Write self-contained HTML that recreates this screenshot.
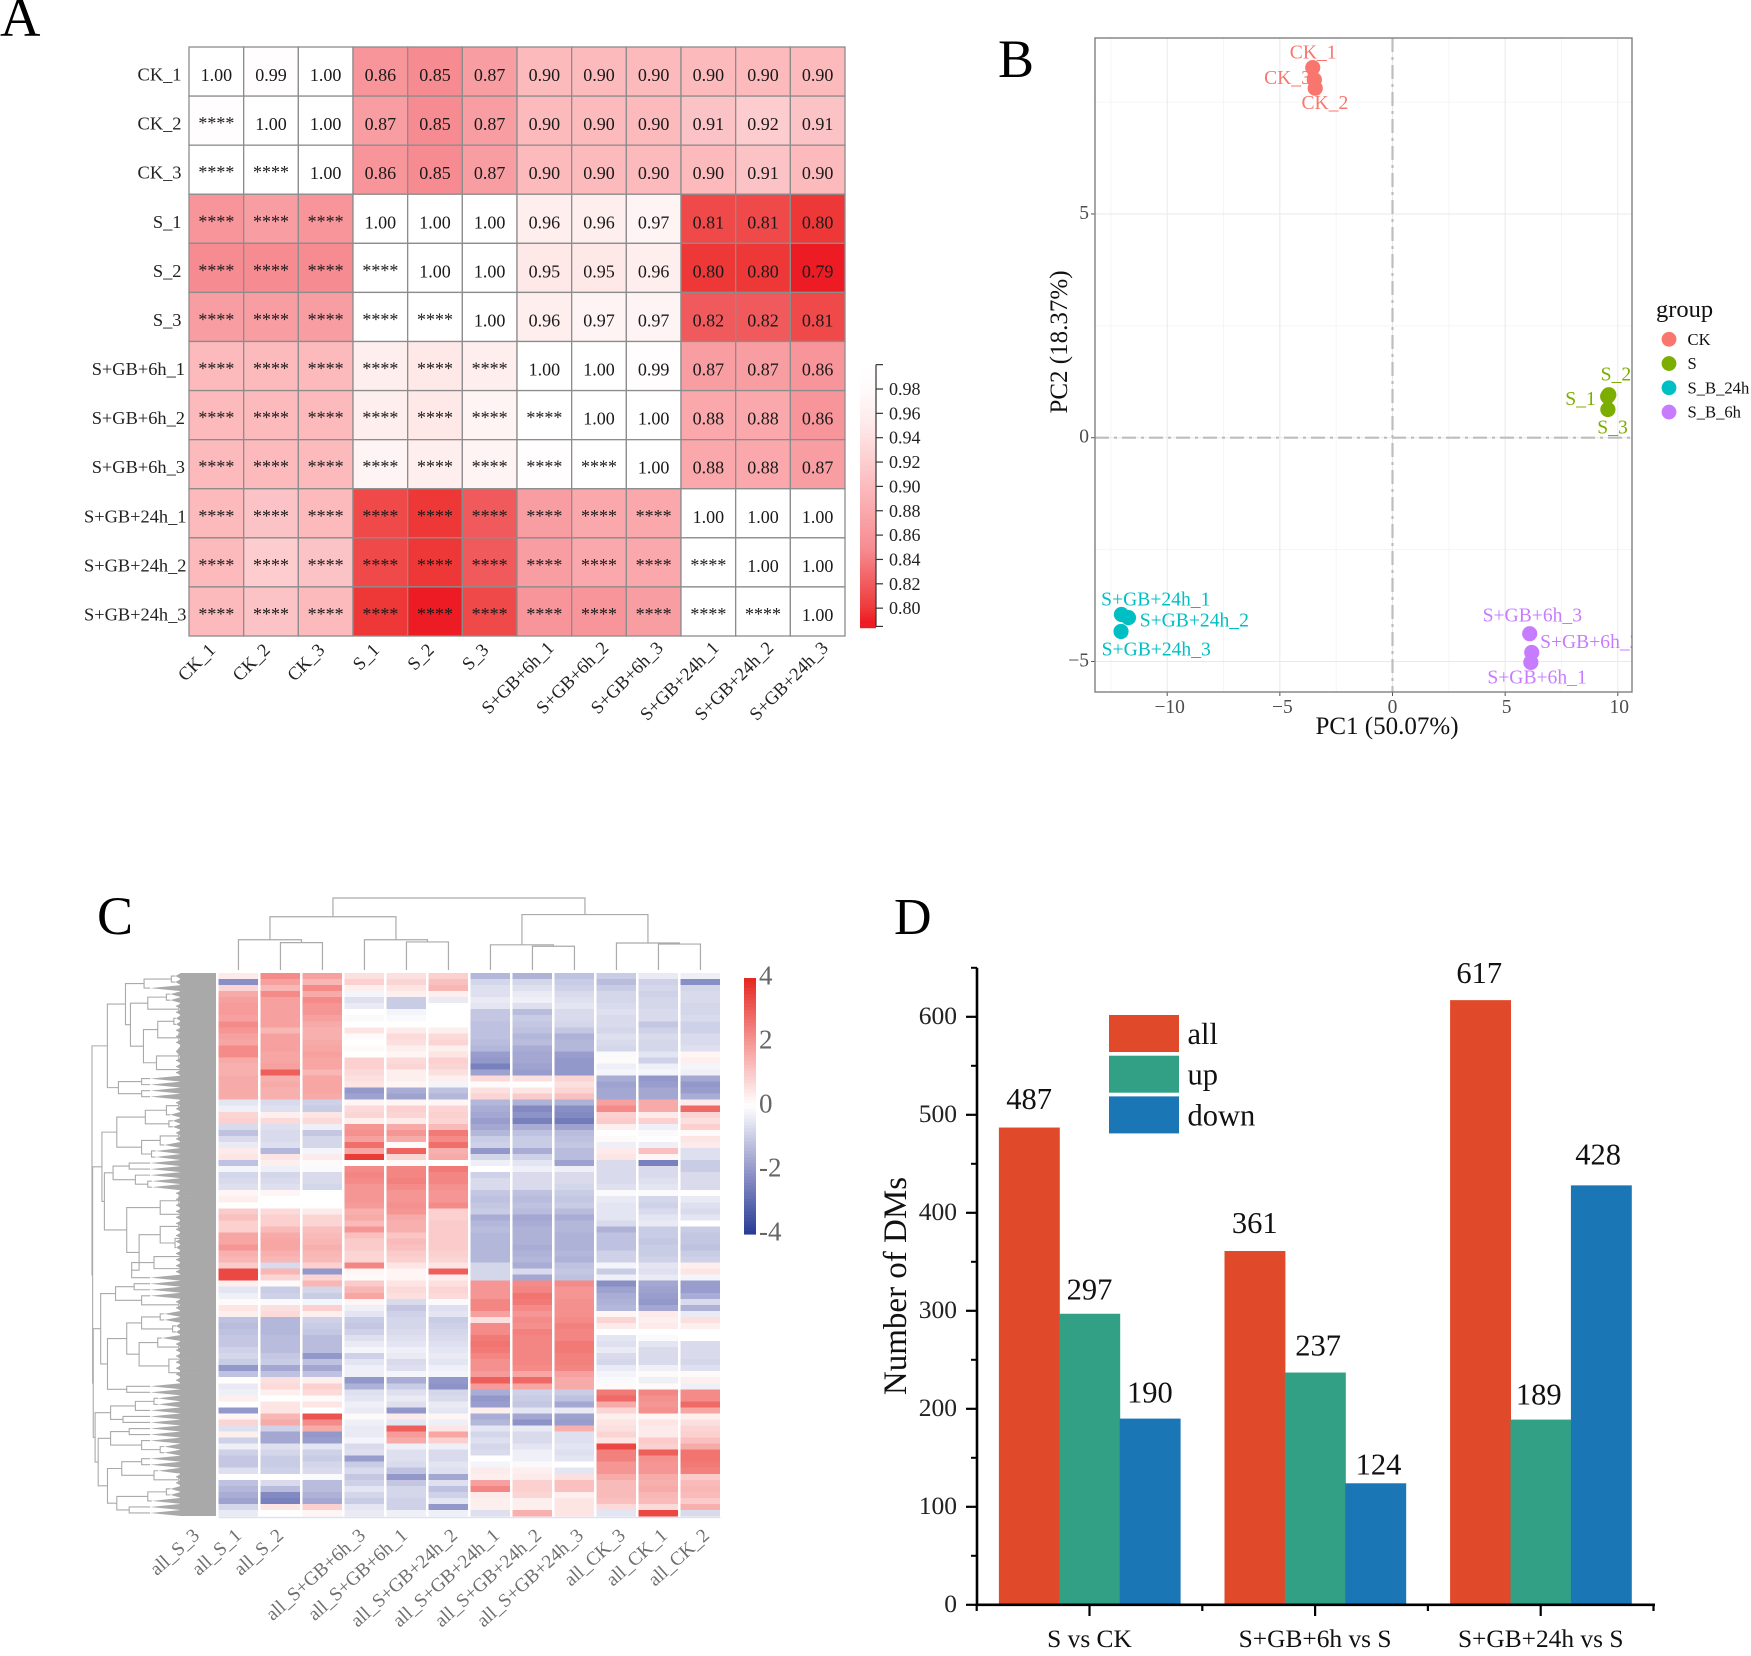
<!DOCTYPE html>
<html lang="en">
<head>
<meta charset="utf-8">
<title>Metabolomics overview: correlation, PCA, clustered heatmap, DM counts</title>
<style>
html,body{margin:0;padding:0;background:#fff;}
svg{display:block;font-family:"Liberation Serif","Noto Serif CJK SC",serif;}
</style>
</head>
<body>
<svg id="fig" xmlns="http://www.w3.org/2000/svg" width="1751" height="1656" viewBox="0 0 1751 1656">
  <rect x="0" y="0" width="1751" height="1656" fill="#ffffff"/>
  <defs><clipPath id="pcaClip"><rect x="1095" y="38" width="537" height="654"/></clipPath></defs>

  <text x="0" y="36" font-size="56" fill="#000">A</text>
  <text x="998" y="77" font-size="54" fill="#000">B</text>
  <text x="97" y="934" font-size="54" fill="#000">C</text>
  <text x="894" y="934" font-size="52" fill="#000">D</text>

  <g id="panelA"></g>

  <g id="panelB">
    <text x="1387" y="734" font-size="25" text-anchor="middle" fill="#111">PC1 (50.07%)</text>
    <text transform="translate(1067,342) rotate(-90)" font-size="25" text-anchor="middle" fill="#111">PC2 (18.37%)</text>
    <text x="1656" y="317" font-size="24.5" fill="#111">group</text>
  </g>

  <g id="panelC"></g>

  <g id="panelD">
    <text transform="translate(906,1286) rotate(-90)" font-size="33" text-anchor="middle" fill="#111">Number of DMs</text>
  </g>
</svg>

<script>
/* ---------- Panel A data ---------- */
const corrLabels = ["CK_1","CK_2","CK_3","S_1","S_2","S_3","S+GB+6h_1","S+GB+6h_2","S+GB+6h_3","S+GB+24h_1","S+GB+24h_2","S+GB+24h_3"];
const corrValues = [
  [1.00,0.99,1.00,0.86,0.85,0.87,0.90,0.90,0.90,0.90,0.90,0.90],
  [0,1.00,1.00,0.87,0.85,0.87,0.90,0.90,0.90,0.91,0.92,0.91],
  [0,0,1.00,0.86,0.85,0.87,0.90,0.90,0.90,0.90,0.91,0.90],
  [0,0,0,1.00,1.00,1.00,0.96,0.96,0.97,0.81,0.81,0.80],
  [0,0,0,0,1.00,1.00,0.95,0.95,0.96,0.80,0.80,0.79],
  [0,0,0,0,0,1.00,0.96,0.97,0.97,0.82,0.82,0.81],
  [0,0,0,0,0,0,1.00,1.00,0.99,0.87,0.87,0.86],
  [0,0,0,0,0,0,0,1.00,1.00,0.88,0.88,0.86],
  [0,0,0,0,0,0,0,0,1.00,0.88,0.88,0.87],
  [0,0,0,0,0,0,0,0,0,1.00,1.00,1.00],
  [0,0,0,0,0,0,0,0,0,0,1.00,1.00],
  [0,0,0,0,0,0,0,0,0,0,0,1.00]
];
const corrBarTicks = [0.98,0.96,0.94,0.92,0.90,0.88,0.86,0.84,0.82,0.80];

/* ---------- Panel B data ---------- */
const pcaSamples = ["CK_1","CK_3","CK_2","S_2","S_1","S_3","S+GB+24h_1","S+GB+24h_2","S+GB+24h_3","S+GB+6h_3","S+GB+6h_2","S+GB+6h_1"];
const pcaGroups  = ["CK","CK","CK","S","S","S","S_B_24h","S_B_24h","S_B_24h","S_B_6h","S_B_6h","S_B_6h"];
const pcaPC1 = [-3.54,-3.47,-3.43,9.60,9.55,9.56,-12.03,-11.72,-12.05,6.09,6.18,6.14];
const pcaPC2 = [8.27,8.00,7.81,0.96,0.92,0.63,-3.95,-4.02,-4.33,-4.38,-4.80,-5.02];
const pcaLabelPC1 = [-4.56,-5.70,-4.04,9.24,7.67,9.09,-12.93,-11.22,-12.91,4.00,6.55,4.21];
const pcaLabelPC2 = [8.61,8.04,7.48,1.41,0.87,0.23,-3.62,-4.09,-4.73,-3.97,-4.57,-5.36];
const pcaLegend = ["CK","S","S_B_24h","S_B_6h"];
const pcaXTicks = [-10,-5,0,5,10];
const pcaYTicks = [-5,0,5];
const pcaXMinor = [-12.5,-7.5,-2.5,2.5,7.5];
const pcaYMinor = [-2.5,2.5,7.5];

/* ---------- Panel C data ---------- */
const heatColumns = ["all_S_3","all_S_1","all_S_2","all_S+GB+6h_3","all_S+GB+6h_1","all_S+GB+24h_2","all_S+GB+24h_1","all_S+GB+24h_2","all_S+GB+24h_3","all_CK_3","all_CK_1","all_CK_2"];
const heatBarTicks = [4,2,0,-2,-4];
const heatRows = [
[.4,2.2,1.8,.6,.6,.9,-1.4,-1.5,-1.2,-1,-.4,-.3],
[-2.2,1.8,1.4,.9,.8,1.2,-.8,-.8,-1,-1.3,-.9,-2.2],
[.8,1.4,2.2,.3,.5,1.4,-.6,-.6,-.9,-1,-.8,-.8],
[1.6,2.2,1.6,-.2,.3,.3,-.6,-.4,-.7,-.8,-.9,-.7],
[1.8,1.8,2.2,-.6,-1,-.4,-.4,-.3,-.6,-.8,-.8,-.7],
[1.9,1.8,2,-.4,-1,0,-.5,-.6,-.5,-.7,-.8,-.8],
[1.9,1.8,2,0,-.2,0,-1.1,-1.3,-.7,-.6,-.7,-.8],
[1.8,1.8,1.8,-.1,-.1,0,-1.1,-1,-.7,-.7,-.7,-.7],
[2.2,1.8,1.6,0,0,0,-1.2,-1.1,-.8,-.7,-1.1,-.9],
[2,1.4,1.5,.5,.4,.3,-1.2,-1.2,-1.1,-.8,-.9,-.9],
[1.8,1.8,1.5,.1,.7,.7,-1.2,-1.4,-1.5,-.6,-.7,-.7],
[1.7,1.8,1.6,0,.6,.8,-1.3,-1.3,-1.4,-.7,-.8,-.7],
[2.2,1.8,1.7,.1,.3,.3,-1.4,-1.6,-1.4,-.8,-.8,-.6],
[2.2,1.7,1.8,0,.2,.5,-1.9,-1.7,-1.9,-.1,-.5,.2],
[1.6,1.7,1.7,.9,.7,.9,-2,-1.7,-2,.1,-.9,.3],
[1.5,1.8,1.7,.9,.8,.8,-2.5,-1.8,-2,-.3,-.3,-.2],
[1.5,3,1.4,.7,.3,.6,-1.8,-1.9,-2,-.2,-.2,-.3],
[1.6,1.5,1.7,.6,.3,.3,.7,.6,.8,-1.6,-2,-1.7],
[1.6,1.6,1.7,.5,.2,-.2,.1,0,.6,-1.8,-1.9,-2],
[1.6,1.5,1.7,-2,-1.6,-1.2,.6,.5,.8,-1.7,-1.7,-1.9],
[1.6,1.5,1.6,-1.8,-1.8,-1.4,.8,1,1.2,-1.7,-1.7,-1.6],
[-.5,-.7,-.9,.2,.2,.2,-1.4,-1.5,-1.5,1.8,1.6,.4],
[-.3,-.6,-1,.7,.9,.8,-1.6,-2.3,-2.2,2.2,1.6,2.8],
[.8,.3,.5,.8,.8,.9,-1.7,-2.1,-2.3,.9,.4,.8],
[.9,.7,.7,.3,.4,.8,-1.9,-2.5,-2.6,1,.9,.6],
[-.7,-.6,-.3,2,1.6,1.3,-1.7,-1.6,-1.8,.3,-.3,.9],
[-1.2,-.7,-1.1,2.1,2,2.5,-1.4,-1.2,-1.3,0,-.1,.1],
[-.7,-.7,-.8,1.8,1.6,2.2,-1,-1,-1.2,.1,0,.5],
[-.4,-.6,-.8,2.7,.1,2.7,-.9,-1,-1.1,-.3,-.3,.4],
[.4,-1.4,-.2,1.7,2.9,1.5,-2,-1.6,-1.3,.4,1.2,-.6],
[.5,.5,.4,3.6,.8,1.6,-.8,-.9,-1.3,.5,.2,-.6],
[-1.2,.3,.1,0,.1,0,-.3,-.5,-1.8,-.7,-2.5,-1],
[-.2,-.3,-.1,2.2,2.3,2.5,0,-.3,-.3,-.7,-.7,-1],
[-.8,-.8,-.7,2.3,2.3,2.3,-.9,-.7,-.7,-.7,-.7,-.7],
[-.7,-.7,-.7,2.2,2.4,2.3,-.7,-.7,-.7,-.7,-.6,-.7],
[-.6,-.6,-.8,2,2.2,2.1,-.7,-.7,-.8,-.6,-.5,-.7],
[.2,.2,0,2,2,2,-1.1,-1.2,-1,-.1,-.1,0],
[.3,0,0,2,2,2,-1.2,-1.3,-1.1,-.4,-.8,-.4],
[0,0,0,1.9,2.1,2.2,-1.1,-1.2,-1,-.5,-.9,-.6],
[1,.7,.4,1.5,2,.9,-1,-1.3,-1.3,-.5,-.7,-.7],
[1.2,.9,.8,1.6,1.6,.9,-1.6,-1.7,-1.6,-.5,-.5,-.5],
[.9,.9,.8,1.3,1.5,1,-1.4,-1.6,-1.4,-.7,-.4,0],
[.9,1.3,1.2,2,1.5,1,-1.3,-1.5,-1.4,-1.5,-1,-1],
[1.7,1.6,1.3,1.2,1.1,1,-1.4,-1.5,-1.5,-1.2,-1,-1.1],
[1.7,1.7,1.4,1,1.3,1,-1.4,-1.5,-1.5,-1.2,-1.1,-1.1],
[2,1.7,1.5,1,1.2,1,-1.4,-1.6,-1.5,-1.2,-1,-1.2],
[1.5,1.5,1.4,.8,1,.9,-1.4,-1.5,-1.4,-.9,-1,-1],
[1.4,1.4,1.3,.8,.9,.8,-1.4,-1.4,-1.5,-.9,-.9,-.9],
[1,-.7,.9,2.3,.5,.5,-.8,-1.6,-1.2,-.2,-.5,.3],
[3.4,1.4,-2,.2,.2,3,-.8,-.7,-1.1,-1,-.6,.5],
[3.4,.8,.8,.1,.2,.3,-.8,-1.7,-1.2,-.3,-.4,-.2],
[.3,.1,1.4,1,.5,.6,2,2.2,2.2,-2.2,-1.7,-1.9],
[-.5,-1,-.8,1.4,.7,.8,2,2.3,2,-1.8,-1.8,-1.9],
[-.3,-.9,-1,1.7,.6,.7,2,2.6,2,-1.6,-1.9,-1.6],
[.1,-.1,-.2,.2,-.7,-.1,2.3,2.5,2.1,-1.5,-2,-.7],
[.5,.6,.9,-.3,-1.1,-.6,2.3,2.2,2.1,-1.4,-1.7,-1.5],
[.3,.7,.3,-.5,-.9,-.5,1.8,2,2.1,.2,.4,-.4],
[-1.2,-1.4,-.9,-1,-.8,-1,.6,2.2,2.2,.8,.3,.6],
[-1.3,-1.4,-1,-1.1,-.8,-.9,2.2,2.1,2.4,.4,.4,.3],
[-1.2,-1.4,-1.1,-.9,-.7,-.8,2.2,2.4,2.3,0,0,0],
[-1.1,-1.3,-1.3,-.6,-.6,-.7,2.5,2.3,2.3,-.5,-.1,0],
[-1.1,-1.3,-1.3,-.4,-.5,-.6,2.6,2.3,2.5,-.6,-.5,-.7],
[-.9,-1.3,-1.3,-.2,-.3,-.5,2.5,2.3,2.5,-.4,-.7,-.7],
[-.8,-1.1,-2,-.9,-.4,-.4,2.3,2.3,2.4,-.7,-.7,-.7],
[-1,-1,-1.2,-.5,-.7,-.5,2.1,2.3,2.4,-.8,-.7,-.8],
[-2,-1.7,-1.7,-.3,-.6,-.3,2.1,2.2,2.3,-.4,-.3,-.6],
[-1.2,-1.2,-1.2,-.3,-.2,-.2,1.9,1.7,1.8,-.2,.1,.1],
[0,.6,.3,-2,-1.6,-2,3,2.8,1.6,-.1,-.3,.3],
[-.4,.7,.9,-1.5,-1,-2.1,1.9,1.7,1.6,.1,.1,-.3],
[-.3,.3,.7,-.6,-.6,-.8,-1.6,-.9,-1,2.5,2.3,2.2],
[.3,0,.1,-.5,-.4,-.7,-2,-1,-1.2,2.8,2.1,2.2],
[0,.5,.5,-.3,-.6,-.4,-1.9,-1.1,-1.7,1.6,2,2.8],
[-2,.5,0,-.4,-2,-.5,.3,-.5,-.4,.8,2.1,1.7],
[.2,1.4,3.2,.1,.4,.2,-1.6,-1.7,-1.8,.3,.2,.3],
[.8,1.6,2.2,-.3,-.5,-.3,-1.4,-2.1,-1.9,.5,.5,.6],
[-.6,-.9,1.6,-.4,3,.5,-.5,-.4,1.5,.6,.4,.8],
[.3,-1.7,-2,-.4,1.9,1.7,-.8,-.7,-.6,.8,.4,.9],
[-.9,-1.7,-1.9,-.2,1.6,.9,-.6,-.7,-.6,.5,1,1.2],
[-.3,-.6,-.5,-.7,-.3,-.3,-.8,-.5,-.5,3.4,.9,1.6],
[-.9,-.8,-.9,-.6,-.6,-.7,-.7,-.3,-.6,2.4,3,2.6],
[-1.1,-1,-1,-1.9,-.6,-.7,0,-.3,-.5,2.4,2.1,2.6],
[-1.1,-1,-.8,-1,-.7,-.5,-.2,-.1,0,2,2,2.5],
[-.6,-.9,-.7,-.7,-1.2,-.6,.4,.3,-.5,2,2,2.4],
[0,0,-.1,-1.1,-2,-1.7,.3,.4,.6,1.6,1.6,1],
[-1.2,-.7,-1.3,-.9,-1.1,-.6,1.8,.9,1.2,1.3,1.5,1.3],
[-1.4,-1.3,-1.3,-.5,-.8,-1.2,2.3,.9,1.2,1.3,1.6,1.4],
[-1.6,-2.3,-1.5,-.8,-.8,-.9,.4,.8,.3,1.3,1.4,1.3],
[-1.8,-2.5,-1.7,-1,-.9,-.5,.3,.3,.5,1.2,1.3,1],
[-.8,.5,.9,-.5,-.9,-2,.3,.3,.5,.7,.7,1.5],
[-.4,0,.2,-.4,-.3,-.3,-.6,1.5,.5,-.5,3.4,-.7]
];
/* Dendrogram merges: [merge height, childA, childB]; a number in rowTree is a cluster of that many rows, a number in colTree is a column index. */
const rowTree = [1,
  [.876,
    [.73,
      [.58,[.36,1,1],1],
      [.69,
        [.55,[.4,1,1],[.3,1,1]],
        [.585,
          [.47,[.34,1,1],[.3,[.2,1,1],1]],
          [.48,[.3,2,1],[.25,1,1]]]]],
    [.787,[.6,1,1],[.6,1,1]]],
  [.995,
    [.92,
      [.8,[.57,[.4,[.3,1,1],1],[.38,1,1]],[.6,[.45,[.3,1,1],1],[.52,1,1]]],
      [.9,
        [.83,[.7,1,1],[.65,1,[.55,1,1]]],
        [.72,
          [.45,[.3,[.15,1,1],1],[.28,1,1]],
          [.62,
            [.45,[.3,1,1],[.33,[.2,1,1],1]],
            [.68,[.5,[.28,1,1],[.25,1,1]],1]]]]],
    [.99,
      [.93,
        [.81,[.66,1,1],[.6,1,[.3,1,1]]],
        [.875,
          [.72,[.6,[.45,1,1],[.35,1,1]],[.62,[.47,1,[.3,1,1]],[.38,[.2,1,1],[.15,1,[.1,1,1]]]]],
          [.72,1,1]]],
      [.975,
        [.85,[.65,[.5,1,1],1],[.75,1,1]],
        [.95,
          [.85,[.7,1,1],[.6,1,[.45,1,1]]],
          [.875,
            [.76,[.6,1,1],[.5,1,[.3,1,1]]],
            [.8,[.55,[.4,1,1],1],[.7,1,1]]]]]]]
];
const colTree = [1,
  [.74,[.42,0,[.38,1,2]],[.42,3,[.39,4,5]]],
  [.77,[.35,6,[.33,7,8]],[.375,9,[.36,10,11]]]
];

/* ---------- Panel D data ---------- */
const dmGroupsNames = ["S vs CK","S+GB+6h vs S","S+GB+24h vs S"];
const dmSeriesNames = ["all","up","down"];
const dmAll  = [487,361,617];
const dmUp   = [297,237,189];
const dmDown = [190,124,428];
const dmYTicks = [0,100,200,300,400,500,600];
const dmYMinorTicks = [50,150,250,350,450,550,650];

/* ---------- helpers ---------- */
const NS = "http://www.w3.org/2000/svg";
function mk(tag, parent, attrs, txt){
  const el = document.createElementNS(NS, tag);
  for(const k in attrs){ el.setAttribute(k, attrs[k]); }
  if(txt !== undefined){ el.textContent = txt; }
  parent.appendChild(el);
  return el;
}
function lerp(a,b,t){ return a+(b-a)*t; }
function rampColor(stops, v){
  if(v <= stops[0][0]) return "rgb("+stops[0].slice(1).join(",")+")";
  for(let i=1;i<stops.length;i++){
    if(v <= stops[i][0]){
      const t=(v-stops[i-1][0])/(stops[i][0]-stops[i-1][0]);
      return "rgb("+[1,2,3].map(k=>Math.round(lerp(stops[i-1][k],stops[i][k],t))).join(",")+")";
    }
  }
  return "rgb("+stops[stops.length-1].slice(1).join(",")+")";
}

/* ---------- Panel A ---------- */
(function(){
  const g = document.getElementById("panelA");
  const x0=189, y0=47, cw=656/12, ch=589/12;
  const stops=[[0.79,237,28,36],[0.80,238,56,56],[0.85,246,140,145],[0.90,252,186,189],[0.95,254,232,232],[0.98,255,250,250],[1,255,255,255]];
  const xA=i=>x0+i*cw, yA=i=>y0+i*ch;
  const rowEnd=n=>n.indexOf("24h")>=0?186.5:(n.indexOf("6h")>=0?185:181.5);
  const colShift=n=>n.indexOf("24h")>=0?5.5:(n.indexOf("6h")>=0?4.5:-6);
  const colDrop=n=>n.length<6?4:2;
  corrLabels.forEach((name,r)=>{
    const lab = mk("text",g,{x:rowEnd(name),y:yA(r)+ch/2+9,"font-size":18.4,"text-anchor":"end",fill:"#222"},name);
    
    
    const xl = mk("text",g,{transform:"translate("+(xA(r)+cw/2+6+colShift(name))+","+(647+colDrop(name))+") rotate(-45)","font-size":18.4,"text-anchor":"end",fill:"#222"},name);
    
    
    corrLabels.forEach((_,c)=>{
      const upper = c>=r;
      const v = upper ? corrValues[r][c] : corrValues[c][r];
      const cell = mk("rect",g,{x:xA(c),y:yA(r),width:cw,height:ch,fill:rampColor(stops,v),stroke:"#8c8c8c","stroke-width":1.3});
      
      
      const t = mk("text",g,{x:xA(c)+cw/2,y:yA(r)+ch/2+(upper?9.5:8.5),"font-size":18,"text-anchor":"middle",fill:"#1a1a1a"},upper? v.toFixed(2):"****");
      
      
    });
  });
  /* colour bar */
  const bx=860,bw=16,by0=389,perUnit=24.35/0.02;
  const yBar=v=>by0+(0.98-v)*perUnit;
  for(let v=1.0;v>0.785;v-=0.002){
    const s = mk("rect",g,{x:bx,y:yBar(v),width:bw,height:0.002*perUnit+0.6,fill:rampColor(stops,v)});
    
    
  }
  const axisLine = mk("line",g,{x1:bx+bw,x2:bx+bw,y1:yBar(1.0),y2:yBar(0.785),stroke:"#333","stroke-width":1.2});
  
  
  corrBarTicks.concat([1.0,0.785]).forEach(v=>{
    const tk = mk("line",g,{x1:bx+bw,x2:bx+bw+7,y1:yBar(v),y2:yBar(v),stroke:"#333","stroke-width":1.2});
    
    
  });
  corrBarTicks.forEach(v=>{
    const tl = mk("text",g,{x:889,y:yBar(v)+6,"font-size":18,fill:"#222"},v.toFixed(2));
    
    
  });
})();

/* ---------- Panel B ---------- */
(function(){
  const g = document.getElementById("panelB");
  const xS=v=>1392.5+v*22.53, yS=v=>437.7-v*44.75;
  const L=1095,R=1632,T=38,B=692;
  const colors={"CK":"#F8766D","S":"#7CAE00","S_B_24h":"#00BFC4","S_B_6h":"#C77CFF"};
  pcaXMinor.forEach(v=>{
    const l = mk("line",g,{x1:xS(v),x2:xS(v),y1:T,y2:B,stroke:"#f5f5f5","stroke-width":1});
    
    
  });
  pcaYMinor.forEach(v=>{
    const l = mk("line",g,{x1:L,x2:R,y1:yS(v),y2:yS(v),stroke:"#f5f5f5","stroke-width":1});
    
    
  });
  pcaXTicks.forEach(v=>{
    const l = mk("line",g,{x1:xS(v),x2:xS(v),y1:T,y2:B,stroke:"#e9e9e9","stroke-width":1});
    
    
    const k = mk("line",g,{x1:xS(v),x2:xS(v),y1:B,y2:B+4,stroke:"#555","stroke-width":1});
    
    
    const t = mk("text",g,{x:xS(v)+(v===0?0:(v>0?1.5:2.5)),y:713,"font-size":19.5,"text-anchor":"middle",fill:"#4d4d4d"},(v<0?"\u2212":"")+Math.abs(v));
    
    
  });
  pcaYTicks.forEach(v=>{
    const l = mk("line",g,{x1:L,x2:R,y1:yS(v),y2:yS(v),stroke:"#e9e9e9","stroke-width":1});
    
    
    const k = mk("line",g,{x1:L-4,x2:L,y1:yS(v),y2:yS(v),stroke:"#555","stroke-width":1});
    
    
    const t = mk("text",g,{x:1089,y:yS(v)+5,"font-size":19.5,"text-anchor":"end",fill:"#4d4d4d"},(v<0?"\u2212":"")+Math.abs(v));
    
    
  });
  const h0 = mk("line",g,{x1:L,x2:R,y1:yS(0),y2:yS(0),stroke:"#bdbdbd","stroke-width":2.2,"stroke-dasharray":"14 5 3 5"});
  
  
  const v0 = mk("line",g,{x1:xS(0),x2:xS(0),y1:T,y2:B,stroke:"#bdbdbd","stroke-width":2.2,"stroke-dasharray":"14 5 3 5"});
  
  
  const clip = mk("g",g,{"clip-path":"url(#pcaClip)"});
  
  
  pcaSamples.forEach((name,i)=>{
    const c = mk("circle",clip,{cx:xS(pcaPC1[i]),cy:yS(pcaPC2[i]),r:7.6,fill:colors[pcaGroups[i]]});
    
    
  });
  pcaSamples.forEach((name,i)=>{
    const t = mk("text",clip,{x:xS(pcaLabelPC1[i]),y:yS(pcaLabelPC2[i])+6,"font-size":19.6,fill:colors[pcaGroups[i]]},name);
    
    
  });
  const frame = mk("rect",g,{x:L,y:T,width:R-L,height:B-T,fill:"none",stroke:"#7f7f7f","stroke-width":1.4});
  
  
  pcaLegend.forEach((name,i)=>{
    const y = 339.3+i*24.25;
    const d = mk("circle",g,{cx:1669,cy:y,r:7.4,fill:colors[name]});
    
    
    const t = mk("text",g,{x:1687.5,y:y+5.5,"font-size":16.6,fill:"#111"},name);
    
    
  });
})();

/* ---------- Panel C ---------- */
(function(){
  const g = document.getElementById("panelC");
  const stops=[[-4,40,60,150],[-2,147,152,202],[0,255,255,255],[2,245,150,148],[4,230,38,32]];
  const hx0=218.7, colPitch=42, colW=39.5, hy0=973, hy1=1516;
  const rowH=(hy1-hy0)/heatRows.length;
  const xC=i=>hx0+i*colPitch, yR=i=>hy0+i*rowH;
  const cellsG = mk("g",g,{"shape-rendering":"crispEdges"});
  
  
  heatRows.forEach((row,r)=>{
    row.forEach((v,c)=>{
      const cell = mk("rect",cellsG,{x:xC(c),y:yR(r),width:colW,height:rowH+0.4,fill:rampColor(stops,v)});
      
      
    });
  });
  const base = mk("line",g,{x1:hx0,x2:720.5,y1:1517.5,y2:1517.5,stroke:"#dde3f0","stroke-width":1.5});
  
  

  /* row dendrogram + grey leaf block */
  const blockR=216, blockL=180, treeW=124, dendColor="#aaaaaa";
  const xH=h=>blockR-h*treeW;
  const block = mk("rect",g,{x:blockL,y:hy0,width:blockR-blockL,height:hy1-hy0,fill:"#a9a9a9"});
  
  
  let cursor=0;
  function drawRow(node, parentH){
    if(typeof node==="number"){
      const a=yR(cursor), b=yR(cursor+node); cursor+=node;
      const tip=Math.min(Math.max(xH(parentH)+4,150),176);
      const w = mk("polygon",g,{points:[tip,(a+b)/2,blockL+1,a,blockL+1,b].join(","),fill:"#a9a9a9"});
      
      
      return {x:tip,y:(a+b)/2};
    }
    const h=node[0];
    const A=drawRow(node[1],h), B=drawRow(node[2],h);
    const p = mk("path",g,{d:"M"+A.x+" "+A.y+"H"+xH(h)+"V"+B.y+"H"+B.x,fill:"none",stroke:dendColor,"stroke-width":1.1});
    
    
    return {x:xH(h),y:(A.y+B.y)/2};
  }
  drawRow(rowTree,1);

  /* column dendrogram */
  const yH=h=>970-h*72;
  function drawCol(node){
    if(typeof node==="number") return {x:xC(node)+colW/2,y:970};
    const h=node[0], A=drawCol(node[1]), B=drawCol(node[2]);
    const p = mk("path",g,{d:"M"+A.x+" "+A.y+"V"+yH(h)+"H"+B.x+"V"+B.y,fill:"none",stroke:dendColor,"stroke-width":1.2});
    
    
    return {x:(A.x+B.x)/2,y:yH(h)};
  }
  drawCol(colTree);

  /* column labels */
  heatColumns.forEach((name,i)=>{
    const shift = i<3 ? -38 : (i<5 ? 2 : 10);
    const t = mk("text",g,{transform:"translate("+(xC(i)+colW/2+shift)+",1537) rotate(-42)","font-size":19.2,"text-anchor":"end",fill:"#6f6f6f"},name);
    
    
  });

  /* colour bar */
  const barY=v=>1106-v*32;
  for(let v=4;v>-4;v-=0.1){
    const s = mk("rect",g,{x:744,y:barY(v),width:12,height:3.8,fill:rampColor(stops,v-0.05)});
    
    
  }
  heatBarTicks.forEach(v=>{
    const t = mk("text",g,{x:759,y:barY(v)+6.5,"font-size":27,fill:"#666"},String(v));
    
    
  });
})();

/* ---------- Panel D ---------- */
(function(){
  const g = document.getElementById("panelD");
  const yV=v=>1604.8-v*0.98;
  const groupX=i=>1089.5+i*225.6;
  const barW=60.4;
  const seriesVals=[dmAll,dmUp,dmDown];
  const seriesCol=["#e04a2b","#31a085","#1a76b5"];
  /* value-label placement nudges, per series then group */
  const labelLift=[[18.5,18,17],[14,17,15],[16,9,21]];
  const labelNudge=[[0,0,-1],[0,3,-2],[0,3,-3]];
  dmGroupsNames.forEach((name,gi)=>{
    seriesVals.forEach((vals,si)=>{
      const x=groupX(gi)+(si-1.5)*barW;
      const b = mk("rect",g,{x:x,y:yV(vals[gi]),width:barW+0.5,height:yV(0)-yV(vals[gi]),fill:seriesCol[si]});
      
      
      const t = mk("text",g,{x:x+barW/2+labelNudge[si][gi],y:yV(vals[gi])-labelLift[si][gi],"font-size":30.5,"text-anchor":"middle",fill:"#111"},String(vals[gi]));
      
      
    });
    const k = mk("line",g,{x1:groupX(gi),x2:groupX(gi),y1:1604,y2:1616,stroke:"#000","stroke-width":2.2});
    
    
    const kb = mk("line",g,{x1:groupX(gi)-112.8,x2:groupX(gi)-112.8,y1:1604,y2:1611,stroke:"#000","stroke-width":2.2});
    
    
    const t2 = mk("text",g,{x:groupX(gi),y:1647,"font-size":25.4,"text-anchor":"middle",fill:"#111"},name);
    
    
  });
  const kEnd = mk("line",g,{x1:groupX(2)+112.8,x2:groupX(2)+112.8,y1:1604,y2:1611,stroke:"#000","stroke-width":2.2});
  
  
  dmYTicks.forEach(v=>{
    const k = mk("line",g,{x1:966,x2:977,y1:yV(v),y2:yV(v),stroke:"#000","stroke-width":2.2});
    
    
    const t = mk("text",g,{x:957,y:yV(v)+7,"font-size":25.5,"text-anchor":"end",fill:"#222"},String(v));
    
    
  });
  dmYMinorTicks.forEach(v=>{
    const k = mk("line",g,{x1:971,x2:977,y1:yV(v),y2:yV(v),stroke:"#000","stroke-width":2});
    
    
  });
  const ax = mk("line",g,{x1:977,x2:977,y1:yV(650),y2:yV(0)+1,stroke:"#000","stroke-width":2.6});
  
  
  const ay = mk("line",g,{x1:976,x2:1655,y1:yV(0),y2:yV(0),stroke:"#000","stroke-width":2.6});
  
  
  /* legend */
  dmSeriesNames.forEach((name,i)=>{
    const y=1015+i*40.7;
    const s = mk("rect",g,{x:1109,y:y,width:70,height:37,fill:seriesCol[i]});
    
    
    const t = mk("text",g,{x:1187.5,y:y+29,"font-size":30.5,fill:"#111"},name);
    
    
  });
})();
</script>
</body>
</html>
